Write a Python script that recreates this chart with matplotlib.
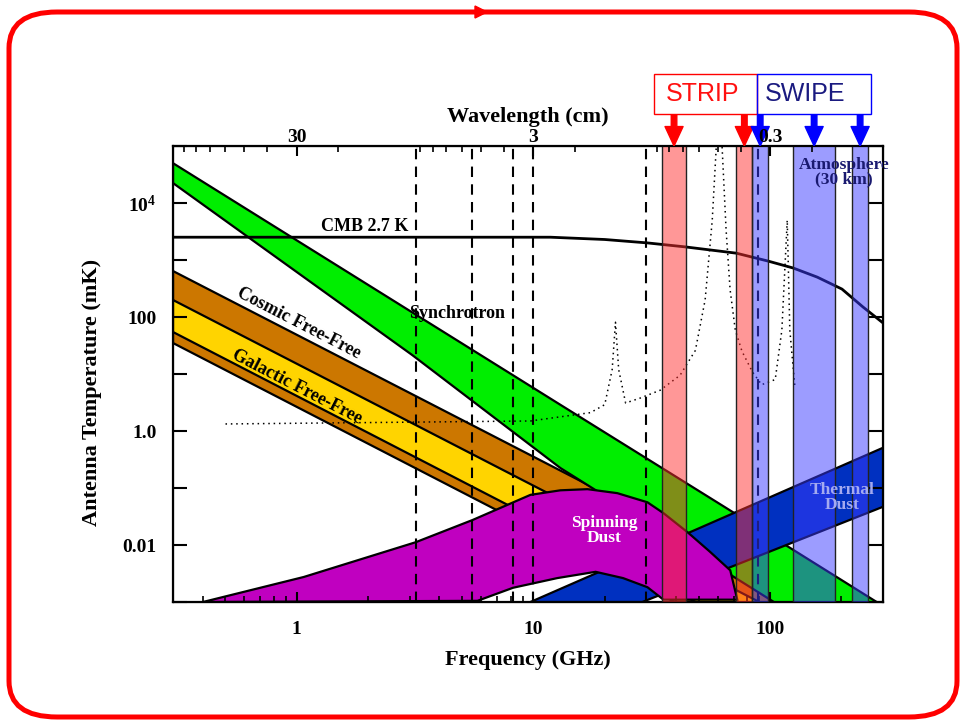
import matplotlib.pyplot as plt
import numpy as np
from matplotlib.patches import FancyBboxPatch, Rectangle, Polygon
from matplotlib.ticker import FixedLocator, NullLocator, NullFormatter, LogLocator

# ---------------------------------------------------------------------
# values: frequency in GHz, antenna temperature in mK
# ---------------------------------------------------------------------
sync_f = [0.3, 3.08, 13.0, 63.4, 300]
sync_hi = [5.0e4, 120, 2.88, 0.048, 8.5e-4]
sync_lo = [2.24e4, 21.4, 0.224, 3.6e-3, 6.3e-5]

ff_f = [0.3, 300]
cosmic_hi = [641, 2.45e-4]
cosmic_lo = [35.0, 1.3e-5]
galactic_hi = [199, 7.6e-5]
galactic_lo = [54.6, 2.0e-5]

spin_hi_f = [0.401, 1.07, 3.18, 5.53, 9.71, 13.0, 16.9, 22.6, 30.3, 35.4, 45.2, 55.7, 67.8, 72.6]
spin_hi = [1.0e-3, 2.75e-3, 0.0112, 0.0275, 0.0759, 0.0912, 0.0955, 0.0813, 0.0562,
           0.0363, 0.0162, 7.6e-3, 3.6e-3, 1.1e-3]
spin_lo_f = [5.8, 8.2, 12.6, 18.3, 23.9, 30.3, 35.4]
spin_lo = [1.05e-3, 1.78e-3, 2.63e-3, 3.39e-3, 2.63e-3, 1.82e-3, 1.1e-3]

dust_hi_f = [9.7, 300]
dust_hi = [1.0e-3, 0.51]
dust_lo_f = [28.8, 300]
dust_lo = [1.0e-3, 0.047]

cmb_f = [0.3, 11.8, 20.0, 30.3, 43.8, 71.9, 98.2, 125, 158, 201, 246, 297]
cmb_T = [2512, 2512, 2290, 1995, 1698, 1318, 955, 724, 501, 309, 151, 81]

atm_f = [0.5, 9.7, 17.4, 20.0, 21.5, 22.2, 22.9, 24.5, 28.3, 34.3, 41.6, 48.3, 53.1,
         56.9, 59.2, 62.6, 65.1, 67.7, 71.2, 76, 84, 92, 105, 112, 118, 121, 127]
atm_T = [1.33, 1.5, 2.1, 2.9, 12, 81, 12, 3.1, 3.8, 5.2, 9.5, 26, 200,
         5000, 1e5, 1e5, 3400, 300, 59, 25, 11, 6.5, 8, 59, 5000, 59, 6.3]

dashed_f = [3.2, 5.5, 8.2, 10, 30, 89]
strip_bands = [(35, 44), (72, 84)]
swipe_bands = [(84, 98), (125, 188), (222, 259)]

C_LIGHT = 29.98  # cm GHz

plt.rcParams['font.family'] = ['Liberation Serif', 'DejaVu Serif']
plt.rcParams['font.weight'] = 'bold'
plt.rcParams['axes.labelweight'] = 'bold'
plt.rcParams['mathtext.fontset'] = 'custom'
plt.rcParams['mathtext.rm'] = 'Liberation Serif:bold'
plt.rcParams['mathtext.it'] = 'Liberation Serif:bold'

fig = plt.figure(figsize=(9.61, 7.21), dpi=100)
ax = fig.add_axes([0.180, 0.165, 0.739, 0.6325])
ax.set_xscale('log')
ax.set_yscale('log')
ax.set_xlim(0.3, 300)
ax.set_ylim(1e-3, 1e5)

edge = dict(edgecolor='black', linewidth=1.6)

# free-free bands
ax.fill(ff_f + ff_f[::-1], cosmic_hi + cosmic_lo[::-1], facecolor='#CC7700', zorder=1, **edge)
ax.fill(ff_f + ff_f[::-1], galactic_hi + galactic_lo[::-1], facecolor='#FFD400', zorder=1.1, **edge)
# synchrotron
ax.fill(sync_f + sync_f[::-1], sync_hi + sync_lo[::-1], facecolor='#00EE00', zorder=1.2, **edge)
# thermal dust
ax.fill(dust_hi_f + dust_lo_f[::-1], dust_hi + dust_lo[::-1], facecolor='#0030C0', zorder=1.3, **edge)
# spinning dust
ax.fill(spin_hi_f + spin_lo_f[::-1], spin_hi + spin_lo[::-1], facecolor='#C000C0', zorder=1.4, **edge)

# receiver channels
for f in dashed_f:
    ax.axvline(f, color='black', linestyle=(0, (5, 3.5)), linewidth=1.5, zorder=2)

ax.plot(cmb_f, cmb_T, color='black', linewidth=2, zorder=2.2)
ax.plot(atm_f, atm_T, color='black', linestyle=(0, (1, 2.5)), linewidth=1.1, zorder=2.2)

# STRIP / SWIPE bands
for lo, hi in strip_bands:
    ax.axvspan(lo, hi, facecolor='#FF3030', alpha=0.5, linewidth=0, zorder=3)
    ax.axvline(lo, color='#222222', linewidth=1, zorder=3.1)
    ax.axvline(hi, color='#222222', linewidth=1, zorder=3.1)
for lo, hi in swipe_bands:
    ax.axvspan(lo, hi, facecolor='#3A3AFF', alpha=0.5, linewidth=0, zorder=3)
    ax.axvline(lo, color='#222222', linewidth=1, zorder=3.1)
    ax.axvline(hi, color='#222222', linewidth=1, zorder=3.1)

# labels inside the plot
ax.text(2.97, 2750, 'CMB 2.7 K', ha='right', va='bottom', fontsize=13, zorder=5)
ax.text(2.97, 117, 'Synchrotron', ha='left', va='center', fontsize=13, zorder=5)
ax.text(1.02, 76, 'Cosmic Free-Free', ha='center', va='center', rotation=-27.3,
        fontsize=13, zorder=5)
ax.text(1.0, 6.0, 'Galactic Free-Free', ha='center', va='center', rotation=-27.3,
        fontsize=13, zorder=5)
ax.text(19.9, 0.0178, 'Spinning\nDust', ha='center', va='center', color='white',
        fontsize=12.5, linespacing=0.95, zorder=5)
ax.text(201, 0.069, 'Thermal\nDust', ha='center', va='center', color='#A4AAF0',
        fontsize=12.5, linespacing=0.95, zorder=5)
ax.text(205, 3.5e4, 'Atmosphere\n(30 km)', ha='center', va='center', color='#1A1A70',
        fontsize=12.5, linespacing=0.9, zorder=5, clip_on=False)

# axes styling
for s in ax.spines.values():
    s.set_linewidth(1.6)
ax.xaxis.set_major_locator(FixedLocator([1, 10, 100]))
ax.set_xticklabels(['1', '10', '100'])
ax.xaxis.set_minor_locator(LogLocator(base=10, subs=np.arange(2, 10)))
ax.xaxis.set_minor_formatter(NullFormatter())
ax.tick_params(axis='x', which='major', direction='in', length=7, width=1.5,
               labelsize=14, pad=14)
ax.tick_params(axis='x', which='minor', direction='in', length=4, width=1.2)
ax.tick_params(axis='x', top=False)

dec = [1e-3, 1e-2, 1e-1, 1, 10, 100, 1e3, 1e4, 1e5]
ax.yaxis.set_major_locator(FixedLocator(dec))
ax.set_yticklabels(['', '0.01', '', '1.0', '', '100', '', r'$\mathregular{10^4}$', ''])
ax.yaxis.set_minor_locator(NullLocator())
ax.tick_params(axis='y', which='major', direction='in', length=10, width=1.5,
               labelsize=14, pad=12, right=True)

ax.set_xlabel('Frequency (GHz)', fontsize=16, labelpad=8)
ax.set_ylabel('Antenna Temperature (mK)', fontsize=16)
ax.yaxis.set_label_coords(-0.10, 0.46)

# wavelength axis on top
ax2 = ax.twiny()
ax2.set_xscale('log')
ax2.set_xlim(C_LIGHT / 0.3, C_LIGHT / 300)
ax2.xaxis.set_major_locator(FixedLocator([30, 3, 0.3]))
ax2.set_xticklabels(['30', '3', '0.3'])
ax2.xaxis.set_minor_locator(LogLocator(base=10, subs=np.arange(2, 10)))
ax2.xaxis.set_minor_formatter(NullFormatter())
ax2.tick_params(axis='x', which='major', direction='in', length=7, width=1.5,
                labelsize=14, pad=0)
ax2.tick_params(axis='x', which='minor', direction='in', length=4, width=1.2)
ax2.set_xlabel('Wavelength (cm)', fontsize=16, labelpad=5)

# instrument boxes and arrows
ax.add_patch(Rectangle((0.677, 1.070), 0.1455, 0.088, transform=ax.transAxes,
                       fill=False, edgecolor='red', linewidth=1, clip_on=False))
ax.add_patch(Rectangle((0.8225, 1.070), 0.1605, 0.088, transform=ax.transAxes,
                       fill=False, edgecolor='blue', linewidth=1, clip_on=False))
ax.text(0.745, 1.114, 'STRIP', transform=ax.transAxes, ha='center', va='center',
        fontsize=18, color='#FF1010', family='Liberation Sans', fontweight='normal')
ax.text(0.890, 1.114, 'SWIPE', transform=ax.transAxes, ha='center', va='center',
        fontsize=18, color='#1A1A80', family='Liberation Sans', fontweight='normal')

arrow = 'simple,head_width=1.3,head_length=1.4,tail_width=0.4'
for bands, col in [(strip_bands, 'red'), (swipe_bands, 'blue')]:
    for lo, hi in bands:
        fc = np.sqrt(lo * hi)
        ax.annotate('', xy=(fc, 1.0), xycoords=('data', 'axes fraction'),
                    xytext=(fc, 1.068), textcoords=('data', 'axes fraction'),
                    arrowprops=dict(arrowstyle=arrow, color=col, shrinkA=0, shrinkB=0),
                    zorder=6, annotation_clip=False)

# slide frame
frame = FancyBboxPatch((9 / 961, 1 - 717 / 721), 948 / 961, 705 / 721,
                       boxstyle='round,pad=0,rounding_size=0.05',
                       transform=fig.transFigure, fill=False, edgecolor='red', linewidth=3.6)
fig.add_artist(frame)
fig.add_artist(Polygon([[475 / 961, 1 - 6 / 721], [475 / 961, 1 - 18 / 721], [487 / 961, 1 - 12 / 721]],
                       closed=True, transform=fig.transFigure, color='red'))

fig.savefig('out.png', dpi=100)
